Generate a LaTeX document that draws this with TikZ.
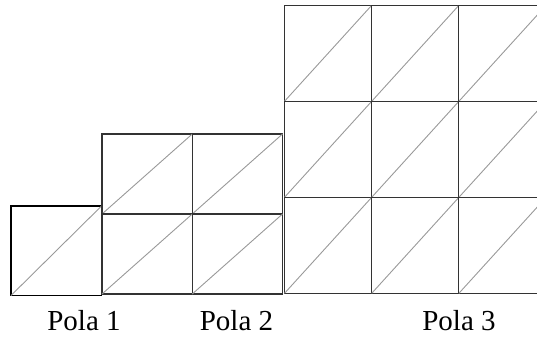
\documentclass[tikz,border=0pt]{standalone}
\usepackage{fontspec}
\setmainfont{Liberation Serif}
\begin{document}
\begin{tikzpicture}[x=1pt,y=-1pt,
cell/.style={draw=black!80,line width=1.1pt},
diag/.style={draw=black!40,line width=0.9pt},
lbl/.style={font=\fontsize{29}{32}\selectfont,anchor=base}
]
\useasboundingbox (0,0) rectangle (537,338);
\begin{scope}
\clip (0,0) rectangle (537,338);
% Pola 1
\draw[cell,draw=black] (11,206) rectangle (101.5,295.5);
\draw[diag] (11,295.5) -- (101.5,206);
% Pola 2
\foreach \i in {0,1}
\foreach \j in {0,1} {
\draw[cell] (102+\i*90.25,134+\j*80) rectangle (102+\i*90.25+90.25,134+\j*80+80);
\draw[diag] (102+\i*90.25,134+\j*80+80) -- (102+\i*90.25+90.25,134+\j*80);
}
% Pola 3
\foreach \i in {0,1,2}
\foreach \j in {0,1,2} {
\draw[cell] (284.5+\i*87.2,5.3+\j*96) rectangle (284.5+\i*87.2+87.2,5.3+\j*96+96);
\draw[diag] (284.5+\i*87.2,5.3+\j*96+96) -- (284.5+\i*87.2+87.2,5.3+\j*96);
}
\end{scope}
\node[lbl] (p1) at (84,330) {Pola 1};
\node[lbl] (p2) at (236.5,330) {Pola 2};
\node[lbl] (p3) at (459,330) {Pola 3};
\end{tikzpicture}
\end{document}
